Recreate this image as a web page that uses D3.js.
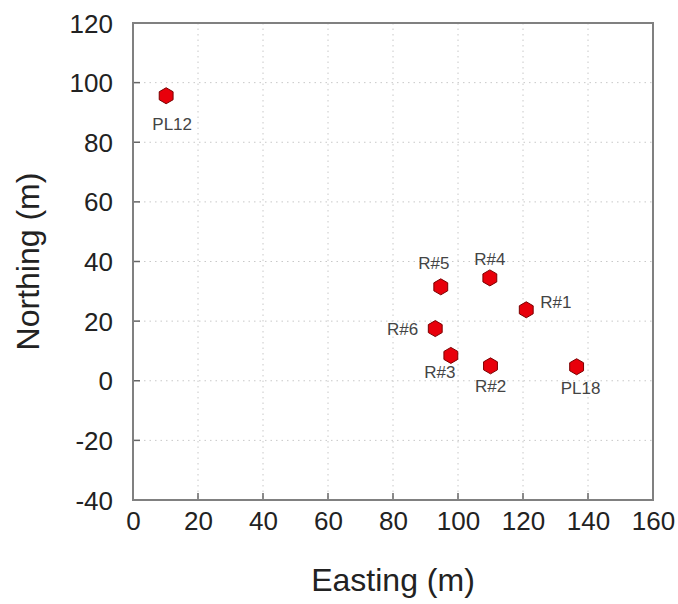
<!DOCTYPE html>
<html><head><meta charset="utf-8">
<script src="https://cdn.jsdelivr.net/npm/d3@7"></script>
<style>body{margin:0;background:#fff}svg{display:block}text{font-family:"Liberation Sans",Arial,sans-serif}</style>
</head><body>
<svg id="c" width="678" height="604"></svg>
<script>
const names = ["PL12","R#5","R#4","R#1","R#6","R#3","R#2","PL18"];
const easting = [10.2, 94.7, 109.8, 121.0, 93.0, 97.8, 110.0, 136.5];
const northing = [95.6, 31.5, 34.5, 23.8, 17.5, 8.5, 5.0, 4.7];
const xTicks = [0,20,40,60,80,100,120,140,160];
const yTicks = [-40,-20,0,20,40,60,80,100,120];

// label placement (layout only)
const labelPos = {
  "PL12":{a:"middle",dx:6,dy:28},
  "R#5":{a:"middle",dx:-7,dy:-24},
  "R#4":{a:"middle",dx:0,dy:-19},
  "R#1":{a:"start",dx:14,dy:-8},
  "R#6":{a:"end",dx:-17,dy:0},
  "R#3":{a:"middle",dx:-11,dy:17},
  "R#2":{a:"middle",dx:0,dy:20},
  "PL18":{a:"middle",dx:4,dy:21}
};

const svg = d3.select("#c");
const L=133, R=653, T=23, B=500;
const x = d3.scaleLinear().domain([0,160]).range([L,R]);
const y = d3.scaleLinear().domain([-40,120]).range([B,T]);

// grid
const g = svg.append("g");
g.selectAll(".gx").data(xTicks.slice(1,-1)).enter().append("line")
  .attr("x1",d=>x(d)).attr("x2",d=>x(d)).attr("y1",T).attr("y2",B)
  .attr("stroke","#c8c8c8").attr("stroke-width",1).attr("stroke-dasharray","1.5,4");
g.selectAll(".gy").data(yTicks.slice(1,-1)).enter().append("line")
  .attr("y1",d=>y(d)).attr("y2",d=>y(d)).attr("x1",L).attr("x2",R)
  .attr("stroke","#c8c8c8").attr("stroke-width",1).attr("stroke-dasharray","1.5,4");

// axes
const fmt = d=>String(d);
const xAxis = d3.axisBottom(x).tickValues(xTicks).tickFormat(fmt).tickSize(0).tickPadding(12);
const yAxis = d3.axisLeft(y).tickValues(yTicks).tickFormat(fmt).tickSize(0).tickPadding(20);
const gx = svg.append("g").attr("transform",`translate(0,${B})`).call(xAxis);
const gy = svg.append("g").attr("transform",`translate(${L},0)`).call(yAxis);
[gx,gy].forEach(a=>{a.select(".domain").remove();
  a.selectAll("text").attr("font-size",26).attr("fill","#222").style("font-family","'Liberation Sans',Arial,sans-serif");});
gx.selectAll("text").attr("dy","0.71em");
gy.selectAll("text").attr("dy","0.35em");

// inward ticks
svg.append("g").selectAll("line").data(xTicks.slice(1,-1)).enter().append("line")
  .attr("x1",d=>x(d)).attr("x2",d=>x(d)).attr("y1",B).attr("y2",B-7)
  .attr("stroke","#666").attr("stroke-width",1.5);
svg.append("g").selectAll("line").data(yTicks.slice(1,-1)).enter().append("line")
  .attr("y1",d=>y(d)).attr("y2",d=>y(d)).attr("x1",L).attr("x2",L+7)
  .attr("stroke","#666").attr("stroke-width",1.5);

// frame
svg.append("rect").attr("x",L).attr("y",T).attr("width",R-L).attr("height",B-T)
  .attr("fill","none").attr("stroke","#808080").attr("stroke-width",2);

// titles
svg.append("text").attr("x",(L+R)/2).attr("y",591).attr("text-anchor","middle")
  .attr("font-size",32).attr("fill","#222").text("Easting (m)");
svg.append("text").attr("transform",`translate(39,${(T+B)/2}) rotate(-90)`).attr("text-anchor","middle")
  .attr("font-size",32).attr("fill","#222").text("Northing (m)");

// points
const pts = names.map((n,i)=>({n, e:easting[i], no:northing[i]}));
const hex = d3.range(6).map(k=>{const a=Math.PI/6+k*Math.PI/3;return [8*Math.cos(a),8*Math.sin(a)];});
svg.append("g").selectAll("path").data(pts).enter().append("path")
  .attr("transform",d=>`translate(${x(d.e)},${y(d.no)})`)
  .attr("d","M"+hex.map(p=>p.join(",")).join("L")+"Z")
  .attr("fill","#e8000b").attr("stroke","#7a0000").attr("stroke-width",1);
svg.append("g").selectAll("text").data(pts).enter().append("text")
  .attr("x",d=>x(d.e)+labelPos[d.n].dx).attr("y",d=>y(d.no)+labelPos[d.n].dy)
  .attr("dy","0.35em").attr("text-anchor",d=>labelPos[d.n].a)
  .attr("font-size",17).attr("fill","#444").text(d=>d.n);
</script>
</body></html>
